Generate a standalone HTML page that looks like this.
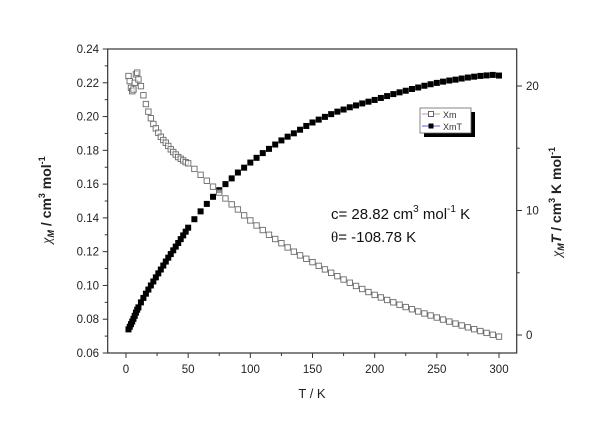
<!DOCTYPE html>
<html><head><meta charset="utf-8"><style>
body{margin:0;background:#fff;}
svg{display:block;font-family:"Liberation Sans",Arial,sans-serif;}
</style></head><body>
<svg id="chart" width="600" height="424" viewBox="0 0 600 424" xmlns="http://www.w3.org/2000/svg">
<rect x="0" y="0" width="600" height="424" fill="#fff"/>
<rect x="107.7" y="49" width="409" height="304" fill="none" stroke="#333" stroke-width="1.2"/>
<g id="ticks"></g>
<g id="marks"></g>
<text x="312" y="398" font-size="13" text-anchor="middle" fill="#222">T / K</text>
<text transform="translate(51,200) rotate(-90)" font-size="14" font-weight="bold" text-anchor="middle" fill="#222"><tspan font-family="Liberation Serif" font-style="italic" font-weight="normal">χ</tspan><tspan font-size="9" font-style="italic" dy="3">M</tspan><tspan dy="-3"> / cm</tspan><tspan font-size="9" dy="-6">3</tspan><tspan dy="6"> mol</tspan><tspan font-size="9" dy="-6">-1</tspan></text>
<text transform="translate(561,202) rotate(-90)" font-size="14" font-weight="bold" text-anchor="middle" fill="#222"><tspan font-family="Liberation Serif" font-style="italic" font-weight="normal">χ</tspan><tspan font-size="9" font-style="italic" dy="3">M</tspan><tspan dy="-3" font-style="italic">T</tspan><tspan> / cm</tspan><tspan font-size="9" dy="-6">3</tspan><tspan dy="6">  K mol</tspan><tspan font-size="9" dy="-6">-1</tspan></text>
<g font-size="15" fill="#111">
<text x="331" y="219">c= 28.82 cm<tspan font-size="10" dy="-7">3</tspan><tspan dy="7"> mol</tspan><tspan font-size="10" dy="-7">-1</tspan><tspan dy="7"> K</tspan></text>
<text x="331" y="242"><tspan font-family="Liberation Serif">θ</tspan>= -108.78 K</text>
</g>
<g>
<rect x="424" y="112" width="51" height="25" fill="#000"/>
<rect x="420" y="108" width="51" height="25" fill="#fff" stroke="#666" stroke-width="0.8"/>
<g>
<line x1="422" y1="114" x2="440" y2="114" stroke="#888" stroke-width="0.8"/>
<rect x="428.5" y="111.5" width="5" height="5" fill="#fff" stroke="#666"/>
<text x="443" y="118" font-size="9" fill="#333">Xm</text>
</g>
<g>
<line x1="422" y1="126" x2="440" y2="126" stroke="#2233cc" stroke-width="0.8"/>
<rect x="428.5" y="123.5" width="5" height="5" fill="#000"/>
<text x="443" y="130" font-size="9" fill="#333">XmT</text>
</g>
</g>
</svg>
<script>
const temps=[2,3,4,5,6,7,8,9,10,12,14,16,18,20,22,24,26,28,30,32,34,36,38,40,42,44,46,48,50,55,60,65,70,75,80,85,90,95,100,105,110,115,120,125,130,135,140,145,150,155,160,165,170,175,180,185,190,195,200,205,210,215,220,225,230,235,240,245,250,255,260,265,270,275,280,285,290,295,300];
const xmValues=[0.224,0.221,0.217,0.215,0.216,0.220,0.225,0.226,0.222,0.218,0.2126,0.2074,0.2029,0.199,0.1956,0.193,0.1904,0.188,0.1861,0.1845,0.1826,0.1806,0.179,0.1775,0.176,0.175,0.174,0.173,0.1723,0.169,0.1655,0.162,0.1585,0.155,0.1515,0.148,0.145,0.1415,0.1385,0.1355,0.1328,0.130,0.1275,0.125,0.1225,0.120,0.1178,0.1158,0.1138,0.1116,0.1095,0.1075,0.1055,0.1035,0.1016,0.0997,0.0979,0.0961,0.0944,0.0929,0.0914,0.0900,0.0886,0.0872,0.0859,0.0846,0.0834,0.0822,0.0810,0.0798,0.0786,0.0774,0.0763,0.0752,0.0741,0.0730,0.0719,0.0708,0.0697];
const xmTValues=[0.45,0.66,0.87,1.08,1.30,1.54,1.80,2.03,2.22,2.62,2.98,3.32,3.65,3.98,4.30,4.63,4.95,5.26,5.58,5.90,6.21,6.50,6.80,7.10,7.39,7.70,8.00,8.30,8.62,9.30,9.93,10.53,11.10,11.63,12.12,12.58,13.05,13.44,13.85,14.23,14.61,14.95,15.30,15.63,15.93,16.20,16.49,16.79,17.07,17.30,17.52,17.74,17.94,18.11,18.29,18.44,18.60,18.74,18.88,19.04,19.19,19.35,19.49,19.62,19.76,19.88,20.02,20.14,20.25,20.35,20.44,20.51,20.60,20.68,20.75,20.81,20.85,20.89,20.84];
const xTicks=[0,50,100,150,200,250,300];
const leftTicks=[0.06,0.08,0.10,0.12,0.14,0.16,0.18,0.20,0.22,0.24];
const rightTicks=[0,10,20];

const NS="http://www.w3.org/2000/svg";
function xScale(t){return 126+(t-0)*(373/300);}
function yLeft(v){return 353-(v-0.06)*(304/0.18);}
function yRight(v){return 335-v*12.45;}
function mk(tag,attrs,parent){const e=document.createElementNS(NS,tag);for(const k in attrs)e.setAttribute(k,attrs[k]);parent.appendChild(e);return e;}
const ticks=document.getElementById('ticks'),marks=document.getElementById('marks');
const tc="#333";
xTicks.forEach(t=>{const x=xScale(t);
 const l=mk('line',{x1:x,y1:353,x2:x,y2:358,stroke:tc},ticks);
 
 
 const tx=mk('text',{x:x,y:373,'font-size':11.5,'text-anchor':'middle',fill:'#222'},ticks);tx.textContent=t;
 
 
 if(t<300){const m=xScale(t+25);const ml=mk('line',{x1:m,y1:353,x2:m,y2:356,stroke:tc},ticks);
 
 }
});
leftTicks.forEach((v,i)=>{const y=yLeft(v);
 const l=mk('line',{x1:102.7,y1:y,x2:107.7,y2:y,stroke:tc},ticks);
 
 
 const tx=mk('text',{x:99,y:y+4,'font-size':11.5,'text-anchor':'end',fill:'#222'},ticks);tx.textContent=v.toFixed(2);
 
 
 if(i<leftTicks.length-1){const m=yLeft(v+0.01);const ml=mk('line',{x1:104.7,y1:m,x2:107.7,y2:m,stroke:tc},ticks);
 
 }
});
rightTicks.forEach(v=>{const y=yRight(v);
 const l=mk('line',{x1:516.7,y1:y,x2:522,y2:y,stroke:tc},ticks);
 
 
 const tx=mk('text',{x:526,y:y+4,'font-size':11.5,fill:'#222'},ticks);tx.textContent=v;
 
 
 const m=yRight(v+5);if(m>49){const ml=mk('line',{x1:516.7,y1:m,x2:519.7,y2:m,stroke:tc},ticks);
 
 }
});
const gT=mk('g',{},marks);


temps.forEach((t,i)=>{const x=xScale(t),y=yRight(xmTValues[i]);
 const r=mk('rect',{x:x-3,y:y-3,width:6,height:6,fill:'#000'},gT);
 
 });
const gX=mk('g',{},marks);


temps.forEach((t,i)=>{const x=xScale(t),y=yLeft(xmValues[i]);
 const r=mk('rect',{x:x-2.7,y:y-2.7,width:5.4,height:5.4,fill:'#fff','fill-opacity':0.6,stroke:'#6a6a6a','stroke-width':0.9},gX);
 
 });
</script>
</body></html>
